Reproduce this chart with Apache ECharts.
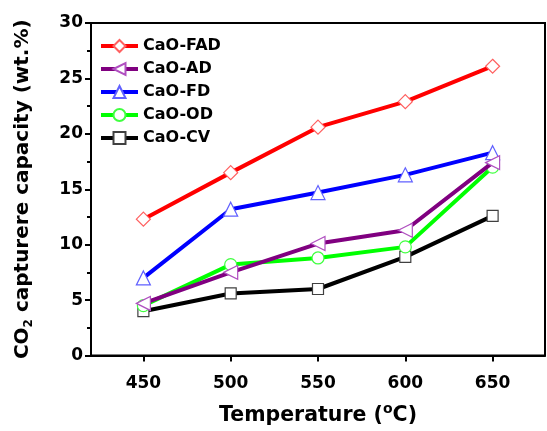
<!DOCTYPE html>
<html>
<head>
<meta charset="utf-8">
<script src="https://cdn.jsdelivr.net/npm/echarts@6/dist/echarts.min.js"></script>
<style>html,body{margin:0;padding:0;background:#fff;}#chart{width:547px;height:431px;}</style>
</head>
<body>
<div id="chart"></div>
<script>
var temperatures = [450, 500, 550, 600, 650];
var xTicks = [450, 500, 550, 600, 650];
var seriesNames = ['CaO-FAD', 'CaO-AD', 'CaO-FD', 'CaO-OD', 'CaO-CV'];
var fad = [12.3, 16.5, 20.6, 22.9, 26.1];
var ad = [4.7, 7.5, 10.1, 11.3, 17.4];
var fd = [7.0, 13.2, 14.7, 16.3, 18.3];
var od = [4.5, 8.2, 8.8, 9.8, 17.0];
var cv = [4.0, 5.6, 6.0, 8.9, 12.6];

var FONT = 'DejaVu Sans, Liberation Sans, Arial, sans-serif';
var lineColors = ['#ff0000', '#800080', '#0000ff', '#00ff00', '#000000'];
var markerColors = ['#ff6060', '#b050c0', '#6060ff', '#40ff40', '#404040'];
var symbols = ['diamond', 'triangle', 'triangle', 'circle', 'rect'];
var symbolSizes = [14, 14, 14, 12, 11];
var symbolRotates = [0, 90, 0, 0, 0];
var dataSets = [fad, ad, fd, od, cv];

function pairs(vals) {
  return temperatures.map(function (t, i) { return [t, vals[i]]; });
}

var series = seriesNames.map(function (name, k) {
  return {
    name: name,
    type: 'line',
    data: pairs(dataSets[k]),
    symbol: symbols[k],
    symbolSize: symbolSizes[k],
    symbolRotate: symbolRotates[k],
    showAllSymbol: true,
    lineStyle: { color: lineColors[k], width: 4 },
    itemStyle: { color: '#ffffff', borderColor: markerColors[k], borderWidth: 1.2 },
    emphasis: { disabled: true },
    z: 10 - k
  };
});

var chart = echarts.init(document.getElementById('chart'), null, { renderer: 'canvas' });
chart.setOption({
  animation: false,
  backgroundColor: '#ffffff',
  grid: { left: 91, right: 2, top: 23, bottom: 73, show: true, borderColor: '#000', borderWidth: 2, containLabel: false },
  legend: {
    orient: 'vertical',
    left: 94,
    top: 33,
    itemWidth: 37,
    itemHeight: 15,
    itemGap: 7,
    data: seriesNames,
    lineStyle: { width: 4 },
    textStyle: { fontFamily: FONT, fontWeight: 'bold', fontSize: 16, color: '#000', lineHeight: 16 }
  },
  xAxis: {
    type: 'value',
    min: 420,
    max: 680,
    name: '{a|Temperature (}{sup|o}{a|C)}',
    nameLocation: 'middle',
    nameGap: 47,
    nameTextStyle: {
      rich: {
        a: { fontFamily: FONT, fontWeight: 'bold', fontSize: 20.5, color: '#000', lineHeight: 26 },
        sup: { fontFamily: FONT, fontWeight: 'bold', fontSize: 14, color: '#000', lineHeight: 26, verticalAlign: 'top', padding: [0, 0, 8, 0] }
      }
    },
    axisLine: { show: true, lineStyle: { color: '#000', width: 2 } },
    axisTick: { show: true, length: 6, inside: false, lineStyle: { color: '#000', width: 2 }, customValues: xTicks },
    axisLabel: { customValues: xTicks, margin: 20, fontFamily: FONT, fontWeight: 'bold', fontSize: 17, color: '#000' },
    splitLine: { show: false }
  },
  yAxis: {
    type: 'value',
    min: 0,
    max: 30,
    interval: 5,
    name: '{a|CO}{sub|2}{a| capturere capacity (wt.%)}',
    nameLocation: 'middle',
    nameRotate: 90,
    nameGap: 56,
    nameTextStyle: {
      rich: {
        a: { fontFamily: FONT, fontWeight: 'bold', fontSize: 20, color: '#000', lineHeight: 24 },
        sub: { fontFamily: FONT, fontWeight: 'bold', fontSize: 12, color: '#000', lineHeight: 24, verticalAlign: 'bottom', padding: [6, 0, 0, 0] }
      }
    },
    axisLine: { show: true, lineStyle: { color: '#000', width: 2 } },
    axisTick: { show: true, length: 6, inside: false, lineStyle: { color: '#000', width: 2 } },
    minorTick: { show: true, splitNumber: 2, length: 4, lineStyle: { color: '#000', width: 2 } },
    axisLabel: { margin: 8, fontFamily: FONT, fontWeight: 'bold', fontSize: 17, color: '#000' },
    splitLine: { show: false }
  },
  series: series
});
</script>
</body>
</html>
